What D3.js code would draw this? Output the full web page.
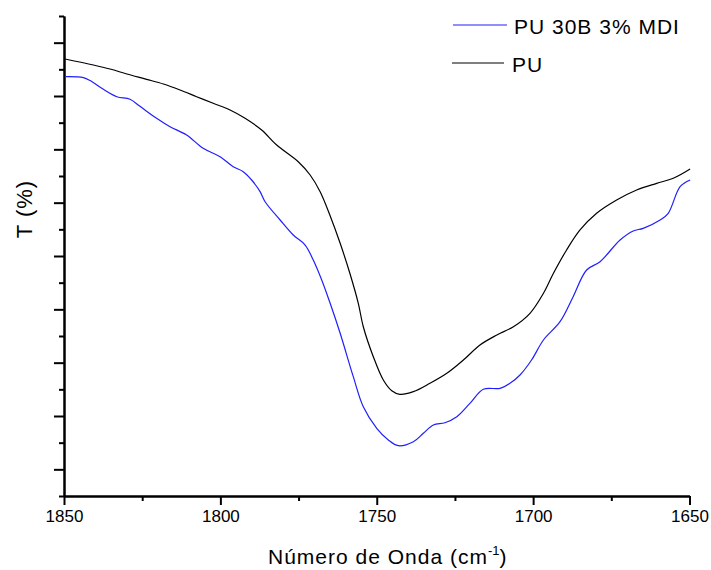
<!DOCTYPE html>
<html>
<head>
<meta charset="utf-8">
<script src="https://cdn.jsdelivr.net/npm/d3@7"></script>
<style>
  html, body { margin: 0; padding: 0; background: #fff; }
  svg { display: block; font-family: "Liberation Sans", Arial, sans-serif; }
</style>
</head>
<body>
<svg id="chart" width="711" height="570"></svg>
<script>
// ---- data (wavenumber cm^-1, transmittance arbitrary units) ----
const seriesNames = ["PU 30B 3% MDI", "PU"];
const seriesColors = ["#1f1fff", "#000000"];

const puWave = [1849.7,1840.6,1835.3,1829.9,1823.6,1818.2,1812.9,1807.6,1802.3,1796.9,1792.1,1786.8,1782.0,1775.1,1771.3,1768.1,1765.0,1761.7,1758.6,1755.9,1754.3,1751.1,1747.9,1745.2,1742.6,1738.3,1733.0,1727.6,1722.3,1717.0,1711.6,1706.3,1701.0,1696.7,1693.5,1689.3,1685.0,1679.7,1673.3,1666.9,1660.5,1655.2,1649.8];
const puT    = [86.94,85.81,85.06,84.13,83.13,82.25,81.13,79.87,78.63,77.38,75.82,73.63,70.81,67.68,65.19,62.06,57.69,52.38,46.76,41.13,36.74,31.12,26.75,24.74,24.07,24.56,26.13,28.01,30.5,33.31,35.19,36.74,39.26,43.01,46.76,51.13,54.88,58.01,60.5,62.38,63.63,64.57,66.31];

const mdiWave = [1849.7,1843.8,1841.5,1837.4,1833.1,1828.9,1825.7,1820.4,1816.1,1810.8,1805.5,1800.1,1795.9,1792.7,1790.0,1787.3,1785.7,1780.9,1776.7,1772.9,1770.3,1767.6,1764.9,1761.7,1757.5,1754.3,1750.0,1746.3,1743.1,1738.3,1735.1,1731.9,1728.2,1724.4,1720.2,1715.9,1710.6,1707.4,1704.2,1700.5,1696.7,1691.4,1687.2,1682.9,1678.6,1672.2,1668.0,1664.8,1659.4,1656.8,1653.0,1649.8];
const mdiT    = [83.62,83.45,82.85,81.26,79.87,79.38,78.06,75.82,74.24,72.69,70.19,68.62,66.74,65.81,64.25,62.06,60.18,56.75,53.94,52.06,49.25,45.5,41.13,35.51,27.37,21.74,17.69,15.5,14.43,15.18,16.76,18.31,18.74,19.87,22.38,25.01,25.19,26.13,27.69,30.5,34.25,37.68,42.37,47.38,48.93,53.0,54.69,55.19,56.75,58.01,62.99,64.25];

const xTicks = [1850, 1800, 1750, 1700, 1650];
const xMinorTicks = [1825, 1775, 1725, 1675];
const yMajorTicks = [10, 20, 30, 40, 50, 60, 70, 80, 90];
const yMinorTicks = [5, 15, 25, 35, 45, 55, 65, 75, 85, 95];

// ---- layout ----
const svg = d3.select("#chart");
const mLeft = 64, mRight = 689.5, mTop = 16, mBottom = 496;

const x = d3.scaleLinear().domain([1850, 1650]).range([mLeft, mRight]);
const y = d3.scaleLinear().domain([5, 95]).range([mBottom, mTop]);

// axes
const xAxisMajor = d3.axisBottom(x).tickValues(xTicks).tickSize(9).tickSizeOuter(0).tickPadding(5).tickFormat(d3.format("d"));
const xAxisMinor = d3.axisBottom(x).tickValues(xMinorTicks).tickSize(5).tickSizeOuter(0).tickFormat("");
const yAxisMajor = d3.axisLeft(y).tickValues(yMajorTicks).tickSize(10).tickSizeOuter(0).tickFormat("");
const yAxisMinor = d3.axisLeft(y).tickValues(yMinorTicks).tickSize(5).tickSizeOuter(0).tickFormat("");

function styleAxis(g) {
  g.selectAll("path.domain").attr("stroke", "#000").attr("stroke-width", 2);
  g.selectAll(".tick line").attr("stroke", "#000").attr("stroke-width", 2);
  g.selectAll(".tick text").attr("fill", "#000").style("font-size", "17px").style("font-family", "'Liberation Sans', Arial, sans-serif");
}

svg.append("g").attr("transform", `translate(0,${mBottom})`).call(xAxisMinor).call(styleAxis);
svg.append("g").attr("transform", `translate(0,${mBottom})`).call(xAxisMajor).call(styleAxis);
svg.append("g").attr("transform", `translate(${mLeft},0)`).call(yAxisMinor).call(styleAxis);
svg.append("g").attr("transform", `translate(${mLeft},0)`).call(yAxisMajor).call(styleAxis);

// lines
const line = d3.line().x(d => x(d[0])).y(d => y(d[1])).curve(d3.curveCatmullRom.alpha(0.5));
const series = [
  { name: seriesNames[0], color: seriesColors[0], pts: mdiWave.map((w, i) => [w, mdiT[i]]) },
  { name: seriesNames[1], color: seriesColors[1], pts: puWave.map((w, i) => [w, puT[i]]) }
];
series.forEach(s => {
  svg.append("path").datum(s.pts)
    .attr("fill", "none").attr("stroke", s.color).attr("stroke-width", 1.2)
    .attr("d", line);
});

// legend
const legY = [25, 63];
const legLineX = [[453, 507], [452, 504]];
const legTextX = [514, 512];
series.forEach((s, i) => {
  svg.append("line").attr("x1", legLineX[i][0]).attr("x2", legLineX[i][1])
    .attr("y1", legY[i]).attr("y2", legY[i]).attr("stroke", s.color).attr("stroke-width", 1.2);
  svg.append("text").attr("x", legTextX[i]).attr("y", legY[i] + 8.5)
    .style("font-size", "21px").style("letter-spacing", "1px").attr("fill", "#000").text(s.name);
});

// axis labels
const xl = svg.append("text").attr("x", 268).attr("y", 564).style("font-size", "21px").style("letter-spacing", "1px").attr("fill", "#000");
xl.append("tspan").text("Número de Onda (cm");
xl.append("tspan").attr("dy", -9).style("font-size", "13px").style("letter-spacing", "0px").text("-1");
xl.append("tspan").attr("dy", 9).text(")");

svg.append("text").attr("transform", "translate(32,209) rotate(-90)")
  .attr("text-anchor", "middle").style("font-size", "22px").style("letter-spacing", "1px").attr("fill", "#000").text("T (%)");
</script>
</body>
</html>
